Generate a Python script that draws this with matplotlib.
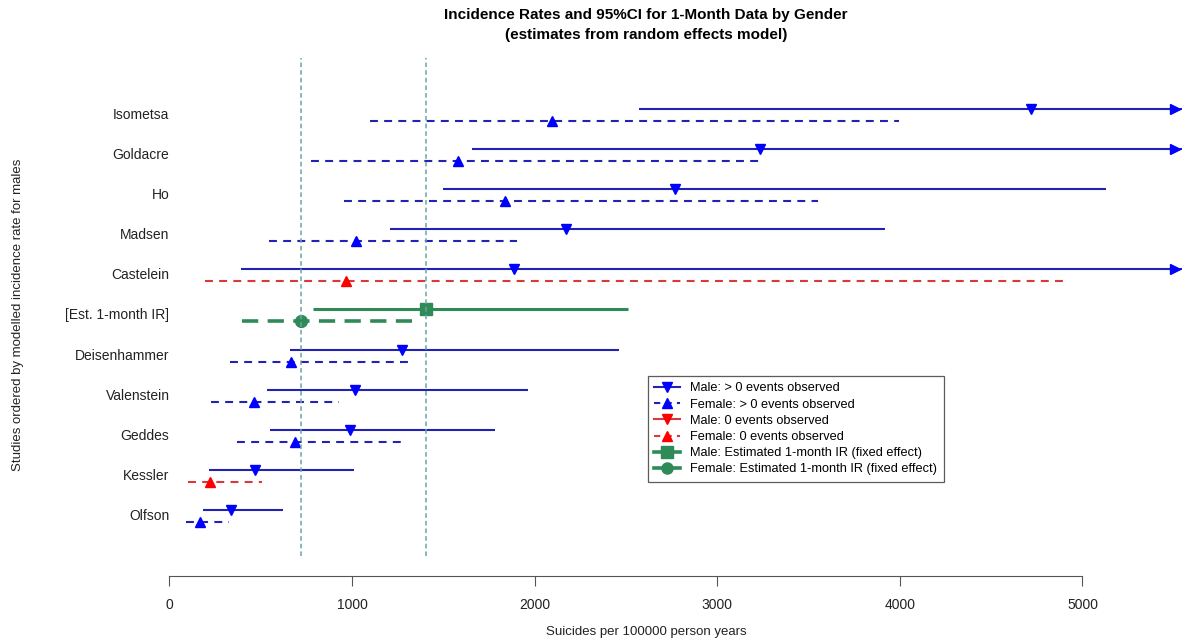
import numpy as np
import matplotlib
matplotlib.use('Agg')
import matplotlib.pyplot as plt
from matplotlib.lines import Line2D

plt.rcParams['font.family'] = ['Liberation Sans', 'DejaVu Sans']

# studies, top to bottom
studies = ['Isometsa', 'Goldacre', 'Ho', 'Madsen', 'Castelein', '[Est. 1-month IR]',
           'Deisenhammer', 'Valenstein', 'Geddes', 'Kessler', 'Olfson']
male_est = [4718, 3236, 2768, 2171, 1888, 1403, 1273, 1016, 988, 468, 337]
male_lo = [2571, 1654, 1499, 1205, 390, 786, 660, 532, 550, 216, 184]
male_hi = [6400, 6000, 5128, 3918, 5800, 2511, 2462, 1961, 1783, 1010, 621]
female_est = [2096, 1580, 1840, 1019, 968, 720, 665, 463, 685, 222, 167]
female_lo = [1097, 774, 956, 545, 193, 395, 331, 229, 370, 101, 90]
female_hi = [3995, 3232, 3552, 1903, 4926, 1328, 1317, 926, 1285, 507, 326]
male_zero = [False] * 11
female_zero = [False, False, False, False, True, False, False, False, False, True, False]
fixed_row = '[Est. 1-month IR]'

x_ticks = [0, 1000, 2000, 3000, 4000, 5000]
x_max = 5545

c_blue_line = '#2222b4'
c_blue = '#0000ff'
c_red_line = '#d83a3a'
c_red = '#ff0000'
c_green = '#2e8b57'
c_ref = '#6aa6a6'

fig = plt.figure(figsize=(11.82, 6.42), dpi=100)
ax = fig.add_axes([160 / 1182, 1 - 556 / 642, 1022 / 1182, 498 / 642])
ax.set_xlim(-52, x_max)
ax.set_ylim(0, 12.42)

n = len(studies)
off = 0.15
for i, name in enumerate(studies):
    y = n - i
    ax.text(0, y, name, ha='right', va='center', fontsize=10, color='#222222', clip_on=False)
    if name == fixed_row:
        ax.plot([male_lo[i], male_hi[i]], [y + off] * 2, color=c_green, lw=2.2, solid_capstyle='butt')
        ax.plot(male_est[i], y + off, marker='s', color=c_green, ms=8.5, ls='none')
        ax.plot([female_lo[i], female_hi[i]], [y - off] * 2, color=c_green, lw=2.6,
                ls=(0, (4.5, 2.6)))
        ax.plot(female_est[i], y - off, marker='o', color=c_green, ms=8.5, ls='none')
        continue
    mc = c_red if male_zero[i] else c_blue
    ml = c_red_line if male_zero[i] else c_blue_line
    hi = min(male_hi[i], x_max)
    ax.plot([male_lo[i], hi], [y + off] * 2, color=ml, lw=1.5, solid_capstyle='butt')
    ax.plot(male_est[i], y + off, marker='v', color=mc, ms=7.5, ls='none')
    if male_hi[i] > x_max:
        ax.plot(x_max - 40, y + off, marker='>', color=mc, ms=7.5, ls='none', clip_on=False)
    fc = c_red if female_zero[i] else c_blue
    fl = c_red_line if female_zero[i] else c_blue_line
    ax.plot([female_lo[i], min(female_hi[i], x_max)], [y - off] * 2, color=fl, lw=1.5,
            ls=(0, (3.8, 3.0)))
    ax.plot(female_est[i], y - off, marker='^', color=fc, ms=7.5, ls='none')

# reference lines at the fixed-effect estimates
k = studies.index(fixed_row)
for v in [female_est[k], male_est[k]]:
    ax.axvline(v, color=c_ref, lw=1.1, ls=(0, (3, 2)))

for s in ['top', 'right', 'left']:
    ax.spines[s].set_visible(False)
ax.spines['bottom'].set_position(('outward', 14.5))
ax.spines['bottom'].set_bounds(0, 5000)
ax.spines['bottom'].set_color('#555555')
ax.set_xticks(x_ticks)
ax.set_xticklabels([str(t) for t in x_ticks], fontsize=10, color='#222222')
ax.tick_params(axis='x', length=7, color='#555555', pad=9)
ax.set_yticks([])

fig.text(646 / 1182, 1 - 632 / 642, 'Suicides per 100000 person years', ha='center', va='center',
         fontsize=9.5, color='#222222')
fig.text(18 / 1182, 1 - 315 / 642, 'Studies ordered by modelled incidence rate for males',
         rotation=90, ha='center', va='center', fontsize=9.5, color='#222222')
fig.text(646 / 1182, 1 - 25 / 642,
         'Incidence Rates and 95%CI for 1-Month Data by Gender\n(estimates from random effects model)',
         ha='center', va='center', fontsize=11, fontweight='bold', linespacing=1.5)

handles = [
    Line2D([], [], color=c_blue_line, lw=1.5, marker='v', mfc=c_blue, mec=c_blue, ms=7),
    Line2D([], [], color=c_blue_line, lw=1.5, ls=(0, (3, 2.5)), marker='^', mfc=c_blue, mec=c_blue, ms=7),
    Line2D([], [], color=c_red_line, lw=1.5, marker='v', mfc=c_red, mec=c_red, ms=7),
    Line2D([], [], color=c_red_line, lw=1.5, ls=(0, (3, 2.5)), marker='^', mfc=c_red, mec=c_red, ms=7),
    Line2D([], [], color=c_green, lw=2.6, marker='s', ms=8),
    Line2D([], [], color=c_green, lw=2.6, marker='o', ms=8),
]
labels = ['Male: > 0 events observed', 'Female: > 0 events observed',
          'Male: 0 events observed', 'Female: 0 events observed',
          'Male: Estimated 1-month IR (fixed effect)', 'Female: Estimated 1-month IR (fixed effect)']
leg = ax.legend(handles, labels, loc='upper left', bbox_to_anchor=((648 - 160) / 1022, (556 - 376) / 498),
                fontsize=9.2, frameon=True, fancybox=False, edgecolor='#333333', handlelength=2.0,
                handletextpad=0.8, borderpad=0.5, labelspacing=0.33, borderaxespad=0)
leg.get_frame().set_linewidth(0.9)

fig.savefig('out.png', dpi=100)
